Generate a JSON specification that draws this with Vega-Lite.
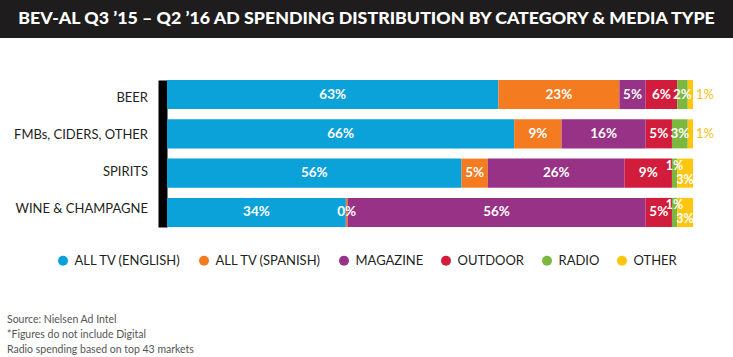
{
  "$schema": "https://vega.github.io/schema/vega-lite/v6.json",
  "padding": 0,
  "spacing": 42,
  "background": "white",
  "config": {"view": {"stroke": null}, "font": "Lato"},
  "title": {
    "text": ["Source: Nielsen Ad Intel", "*Figures do not include Digital", "Radio spending based on top 43 markets"],
    "orient": "bottom", "anchor": "start", "fontSize": 10.5, "fontWeight": "normal", "color": "#555555",
    "lineHeight": 15, "dx": 7, "offset": 47, "font": "Lato"
  },
  "datasets": {
    "spend": [
      {"category": "BEER", "media": "ALL TV (ENGLISH)", "order": 1, "value": 63, "label": "63%"},
      {"category": "BEER", "media": "ALL TV (SPANISH)", "order": 2, "value": 23, "label": "23%"},
      {"category": "BEER", "media": "MAGAZINE", "order": 3, "value": 5, "label": "5%"},
      {"category": "BEER", "media": "OUTDOOR", "order": 4, "value": 6, "label": "6%"},
      {"category": "BEER", "media": "RADIO", "order": 5, "value": 2, "label": "2%"},
      {"category": "BEER", "media": "OTHER", "order": 6, "value": 1, "label": "1%"},
      {"category": "FMBs, CIDERS, OTHER", "media": "ALL TV (ENGLISH)", "order": 1, "value": 66, "label": "66%"},
      {"category": "FMBs, CIDERS, OTHER", "media": "ALL TV (SPANISH)", "order": 2, "value": 9, "label": "9%"},
      {"category": "FMBs, CIDERS, OTHER", "media": "MAGAZINE", "order": 3, "value": 16, "label": "16%"},
      {"category": "FMBs, CIDERS, OTHER", "media": "OUTDOOR", "order": 4, "value": 5, "label": "5%"},
      {"category": "FMBs, CIDERS, OTHER", "media": "RADIO", "order": 5, "value": 3, "label": "3%"},
      {"category": "FMBs, CIDERS, OTHER", "media": "OTHER", "order": 6, "value": 1, "label": "1%"},
      {"category": "SPIRITS", "media": "ALL TV (ENGLISH)", "order": 1, "value": 56, "label": "56%"},
      {"category": "SPIRITS", "media": "ALL TV (SPANISH)", "order": 2, "value": 5, "label": "5%"},
      {"category": "SPIRITS", "media": "MAGAZINE", "order": 3, "value": 26, "label": "26%"},
      {"category": "SPIRITS", "media": "OUTDOOR", "order": 4, "value": 9, "label": "9%"},
      {"category": "SPIRITS", "media": "RADIO", "order": 5, "value": 1, "label": "1%"},
      {"category": "SPIRITS", "media": "OTHER", "order": 6, "value": 3, "label": "3%"},
      {"category": "WINE & CHAMPAGNE", "media": "ALL TV (ENGLISH)", "order": 1, "value": 34, "label": "34%"},
      {"category": "WINE & CHAMPAGNE", "media": "ALL TV (SPANISH)", "order": 2, "value": 0.3, "label": "0%"},
      {"category": "WINE & CHAMPAGNE", "media": "MAGAZINE", "order": 3, "value": 56.7, "label": "56%"},
      {"category": "WINE & CHAMPAGNE", "media": "OUTDOOR", "order": 4, "value": 5, "label": "5%"},
      {"category": "WINE & CHAMPAGNE", "media": "RADIO", "order": 5, "value": 1, "label": "1%"},
      {"category": "WINE & CHAMPAGNE", "media": "OTHER", "order": 6, "value": 3, "label": "3%"}
    ]
  },
  "vconcat": [
    {
      "width": 733, "height": 38,
      "view": {"fill": "#1e1c1c", "stroke": null},
      "data": {"values": [{"t": "BEV-AL Q3 ’15 – Q2 ’16 AD SPENDING DISTRIBUTION BY CATEGORY & MEDIA TYPE"}]},
      "mark": {"type": "text", "color": "white", "fontSize": 17.8, "fontWeight": 900, "font": "Lato"},
      "encoding": {"text": {"field": "t"}}
    },
    {
      "spacing": 14,
      "hconcat": [
        {
          "width": 148, "height": 147,
          "data": {"name": "spend"},
          "transform": [{"filter": "datum.order == 1"}],
          "mark": {"type": "text", "align": "right", "fontSize": 13, "font": "Lato", "color": "#231f20"},
          "encoding": {
            "x": {"value": "width"},
            "y": {
              "field": "category", "type": "nominal",
              "sort": ["BEER", "FMBs, CIDERS, OTHER", "SPIRITS", "WINE & CHAMPAGNE"],
              "scale": {"paddingInner": 0.26, "paddingOuter": 0},
              "axis": null
            },
            "text": {"field": "category"}
          }
        },
        {
          "width": 526, "height": 147,
          "data": {"name": "spend"},
          "transform": [
            {"stack": "value", "groupby": ["category"], "sort": [{"field": "order", "order": "ascending"}], "offset": "normalize", "as": ["x0", "x1"]},
            {"calculate": "(datum.x0 + datum.x1) / 2", "as": "mid"}
          ],
          "encoding": {
            "y": {
              "field": "category", "type": "nominal",
              "sort": ["BEER", "FMBs, CIDERS, OTHER", "SPIRITS", "WINE & CHAMPAGNE"],
              "scale": {"paddingInner": 0.26, "paddingOuter": 0},
              "axis": {"title": null, "ticks": false, "labels": false, "domainColor": "#000000", "domainWidth": 9, "offset": 4.5, "minExtent": 0}
            }
          },
          "layer": [
            {
              "mark": {"type": "bar"},
              "encoding": {
                "x": {"field": "x0", "type": "quantitative", "scale": {"domain": [0, 1]}, "axis": null},
                "x2": {"field": "x1"},
                "color": {
                  "field": "media", "type": "nominal",
                  "scale": {
                    "domain": ["ALL TV (ENGLISH)", "ALL TV (SPANISH)", "MAGAZINE", "OUTDOOR", "RADIO", "OTHER"],
                    "range": ["#0ba1d9", "#f47b20", "#983287", "#d21c3b", "#7cb83f", "#fec60f"]
                  },
                  "legend": {
                    "orient": "none", "legendX": 56.5, "legendY": 254, "direction": "horizontal", "title": null, "symbolType": "circle",
                    "symbolSize": 100, "symbolStrokeWidth": 0, "labelFontSize": 13, "labelFont": "Lato", "padding": 0,
                    "labelColor": "#231f20", "columnPadding": 16, "labelOffset": 5, "columns": 6
                  }
                }
              }
            },
            {
              "transform": [{"filter": "!(datum.media == 'OTHER') && !(datum.media == 'RADIO' && (datum.category == 'SPIRITS' || datum.category == 'WINE & CHAMPAGNE'))"}],
              "mark": {"type": "text", "color": "white", "fontWeight": "bold", "fontSize": 13.5, "font": "Lato"},
              "encoding": {"x": {"field": "mid", "type": "quantitative"}, "text": {"field": "label"}}
            },
            {
              "transform": [{"filter": "datum.media == 'OTHER' && (datum.category == 'BEER' || datum.category == 'FMBs, CIDERS, OTHER')"}],
              "mark": {"type": "text", "color": "#fdc010", "fontSize": 13, "font": "Lato", "align": "left", "dx": 3},
              "encoding": {"x": {"field": "x1", "type": "quantitative"}, "text": {"field": "label"}}
            },
            {
              "transform": [{"filter": "datum.media == 'RADIO' && (datum.category == 'SPIRITS' || datum.category == 'WINE & CHAMPAGNE')"}],
              "mark": {"type": "text", "color": "white", "fontWeight": "bold", "fontSize": 12.5, "font": "Lato", "dy": -7},
              "encoding": {"x": {"field": "mid", "type": "quantitative"}, "text": {"field": "label"}}
            },
            {
              "transform": [{"filter": "datum.media == 'OTHER' && (datum.category == 'SPIRITS' || datum.category == 'WINE & CHAMPAGNE')"}],
              "mark": {"type": "text", "color": "white", "fontWeight": "bold", "fontSize": 12.5, "font": "Lato", "dy": 7},
              "encoding": {"x": {"field": "mid", "type": "quantitative"}, "text": {"field": "label"}}
            }
          ]
        }
      ]
    }
  ]
}
